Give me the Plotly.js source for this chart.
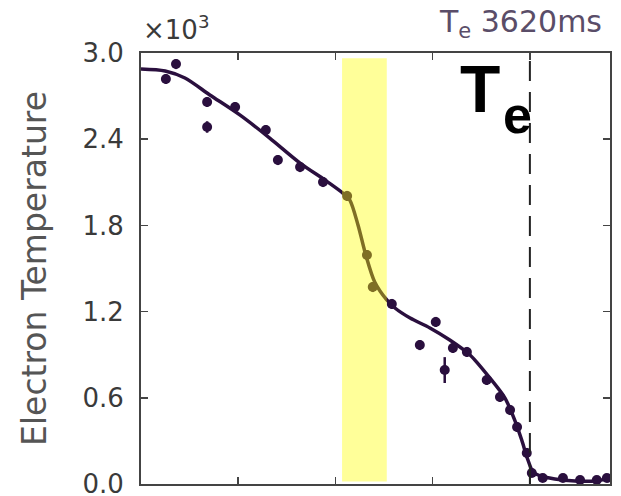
<!DOCTYPE html>
<html>
<head>
<meta charset="utf-8">
<script src="https://cdn.plot.ly/plotly-3.0.1.min.js"></script>
<style>html,body{margin:0;padding:0;background:#fff;}#chart{width:621px;height:496px;}</style>
</head>
<body>
<div id="chart"></div>
<script>
// Measured profile points (x: normalized radius, y: electron temperature in eV)
const pointX = [0.064, 0.090, 0.170, 0.170, 0.242, 0.321, 0.352, 0.409, 0.468, 0.530,
                0.581, 0.596, 0.645, 0.717, 0.758, 0.781, 0.802, 0.838, 0.889, 0.923,
                0.949, 0.967, 0.992, 1.005, 1.033, 1.085, 1.129, 1.172, 1.198];
const pointY = [2819, 2923, 2659, 2485, 2624, 2464, 2255, 2206, 2102, 2005,
                1594, 1371, 1253, 967, 1128, 793, 947, 919, 724, 606,
                515, 397, 216, 77, 42, 42, 28, 28, 42];
const pointErr = [35, 35, 35, 40, 35, 35, 35, 35, 35, 35,
                  35, 35, 35, 35, 35, 90, 35, 35, 35, 35,
                  35, 35, 35, 25, 20, 20, 20, 20, 20];
// Fitted profile curve
const fitX = [0.000, 0.062, 0.113, 0.177, 0.254, 0.331, 0.409, 0.473, 0.519, 0.537,
              0.558, 0.578, 0.601, 0.632, 0.653, 0.692, 0.743, 0.794, 0.846, 0.897,
              0.936, 0.961, 0.979, 0.995, 1.008, 1.026, 1.064, 1.116, 1.167, 1.193, 1.206];
const fitY = [2889, 2875, 2826, 2708, 2569, 2408, 2234, 2116, 2025, 1976,
              1803, 1594, 1406, 1281, 1225, 1155, 1086, 1002, 898, 738,
              598, 445, 306, 167, 84, 56, 35, 21, 21, 35, 63];
const bandX = [0.517, 0.632];   // highlighted region
const separatrixX = 1.0;
const yTickVals = [0, 600, 1200, 1800, 2400, 3000];
const yTickText = ["0.0", "0.6", "1.2", "1.8", "2.4", "3.0"];
const xTickVals = [0, 0.25, 0.5, 0.75, 1.0];
const titleText = "T<sub>e</sub> 3620ms";

const purple = "#2a0f3e";
const traces = [
  {x: fitX, y: fitY, mode: "lines", type: "scatter",
   line: {color: purple, width: 3.5, shape: "spline", smoothing: 0.8},
   hoverinfo: "skip", showlegend: false},
  {x: pointX, y: pointY, mode: "markers", type: "scatter",
   marker: {color: purple, size: 10, symbol: "circle"},
   error_y: {type: "data", array: pointErr, visible: true, color: purple, thickness: 2.5, width: 0},
   showlegend: false}
];

const layout = {
  width: 621, height: 496,
  margin: {l: 141, r: 11, t: 53, b: 12},
  paper_bgcolor: "#ffffff", plot_bgcolor: "#ffffff",
  showlegend: false,
  font: {family: "DejaVu Sans", color: "#3a3a3a"},
  xaxis: {range: [0, 1.206], tickvals: xTickVals, showticklabels: false,
          ticks: "inside", ticklen: 7, tickwidth: 1.5, tickcolor: "#444",
          showline: true, linecolor: "#444", linewidth: 2, mirror: "ticks",
          showgrid: false, zeroline: false, fixedrange: true},
  yaxis: {range: [0, 3000], tickvals: yTickVals, ticktext: yTickText,
          ticks: "inside", ticklen: 7, tickwidth: 1.5, tickcolor: "#444",
          tickfont: {family: "DejaVu Sans", size: 26, color: "#3a3a3a"},
          ticklabeloverflow: "allow",
          showline: true, linecolor: "#444", linewidth: 2, mirror: "ticks",
          showgrid: false, zeroline: false, ticklabelstandoff: 10,
          title: {text: "Electron Temperature", font: {family: "DejaVu Sans", size: 33, color: "#555555"}, standoff: 26}},
  shapes: [
    {type: "rect", xref: "x", yref: "paper", x0: bandX[0], x1: bandX[1], y0: 0.006, y1: 0.988,
     fillcolor: "rgba(255,255,0,0.4)", line: {width: 0}, layer: "above"},
    {type: "line", xref: "x", yref: "paper", x0: separatrixX, x1: separatrixX, y0: 0, y1: 1,
     line: {color: "#222", width: 2, dash: "20px,11px"}, layer: "above"}
  ],
  annotations: [
    {xref: "paper", yref: "paper", x: 1, y: 1, xanchor: "right", yanchor: "bottom",
     xshift: -6, yshift: 8, showarrow: false, text: titleText,
     font: {family: "DejaVu Sans", size: 30, color: "#5a4d68"}},
    {xref: "paper", yref: "paper", x: 0, y: 1, xanchor: "left", yanchor: "bottom",
     xshift: 0, yshift: 6, showarrow: false, text: "×10<sup>3</sup>",
     font: {family: "DejaVu Sans", size: 26, color: "#3a3a3a"}},
    {xref: "paper", yref: "paper", x: 0.7676, y: 1.005, xanchor: "right", yanchor: "top",
     showarrow: false, borderpad: 0, text: "<b>T</b>",
     font: {family: "Liberation Sans Narrow, Liberation Sans", size: 66, color: "#000"}},
    {xref: "paper", yref: "paper", x: 0.7697, y: 0.926, xanchor: "left", yanchor: "top",
     showarrow: false, borderpad: 0, text: "<b>e</b>",
     font: {family: "Liberation Sans", size: 52, color: "#000"}}
  ]
};

Plotly.newPlot("chart", traces, layout, {displayModeBar: false, staticPlot: true});
</script>
</body>
</html>
